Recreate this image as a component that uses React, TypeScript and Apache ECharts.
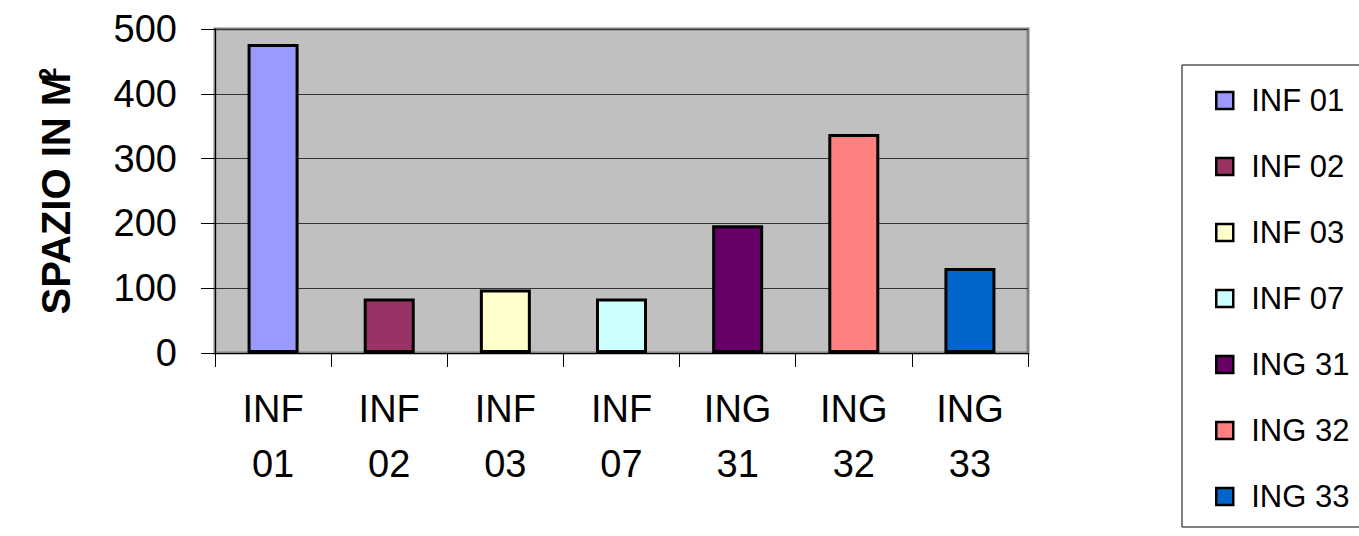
import React, { useEffect, useRef } from "react";
import * as echarts from "echarts";

const categories = ["INF 01", "INF 02", "INF 03", "INF 07", "ING 31", "ING 32", "ING 33"];
const values = [477, 84, 98, 84, 197, 338, 131];
const colors = ["#9999FF", "#993366", "#FFFFCC", "#CCFFFF", "#660066", "#FF8080", "#0066CC"];
const yTicks = { min: 0, max: 500, interval: 100 };
const yTitle = "SPAZIO IN M";

export default function App() {
  const ref = useRef<HTMLDivElement>(null);
  useEffect(() => {
    document.body.style.margin = "0";
    const chart = echarts.init(ref.current!, null, { renderer: "svg" });
    const font = "Liberation Sans, Arial, sans-serif";
    const series = categories.map((name, i) => ({
      name,
      type: "bar",
      stack: "all",
      barWidth: 51,
      data: categories.map((_, j) => (j === i ? values[i] : "-")),
      itemStyle: { color: colors[i], borderColor: "#000", borderWidth: 3 },
    }));
    chart.setOption({
      animation: false,
      textStyle: { fontFamily: font },
      grid: {
        left: 215,
        right: 331,
        top: 29,
        bottom: 183,
        show: true,
        backgroundColor: "#C0C0C0",
        borderColor: "#808080",
        borderWidth: 3,
      },
      legend: {
        orient: "vertical",
        left: 1182,
        top: 65,
        borderColor: "#000",
        borderWidth: 1,
        padding: [20, 30, 15, 33],
        itemGap: 35,
        itemWidth: 17,
        itemHeight: 17,
        icon: "rect",
        itemStyle: { borderColor: "#000", borderWidth: 2.5 },
        textStyle: { fontSize: 31, lineHeight: 31, color: "#000", fontFamily: font, padding: [0, 0, 0, 13] },
        data: categories,
      },
      xAxis: {
        type: "category",
        data: categories,
        axisLine: { show: true, lineStyle: { color: "#000", width: 1 } },
        axisTick: { show: true, length: 14, lineStyle: { color: "#000" } },
        axisLabel: {
          fontSize: 38,
          lineHeight: 55,
          color: "#000",
          margin: 28,
          fontFamily: font,
          formatter: (v: string) => v.replace(" ", "\n"),
        },
      },
      yAxis: {
        type: "value",
        min: yTicks.min,
        max: yTicks.max,
        interval: yTicks.interval,
        axisLine: { show: true, lineStyle: { color: "#000", width: 1 } },
        axisTick: { show: true, length: 14, lineStyle: { color: "#000" } },
        axisLabel: { fontSize: 38, color: "#000", margin: 38, fontFamily: font },
        splitLine: { show: true, lineStyle: { color: "#333", width: 1 } },
        name: yTitle + "{sup|2}",
        nameLocation: "middle",
        nameRotate: 90,
        nameGap: 138,
        nameTextStyle: {
          fontSize: 40,
          fontWeight: "bold",
          color: "#000",
          fontFamily: font,
          rich: {
            sup: { fontSize: 24, fontWeight: "bold", verticalAlign: "top", padding: [0, 0, 18, -8], fontFamily: font },
          },
        },
      },
      series,
    });
    return () => chart.dispose();
  }, []);
  return <div ref={ref} style={{ position: "absolute", left: 0, top: 0, width: 1359, height: 536 }} />;
}
